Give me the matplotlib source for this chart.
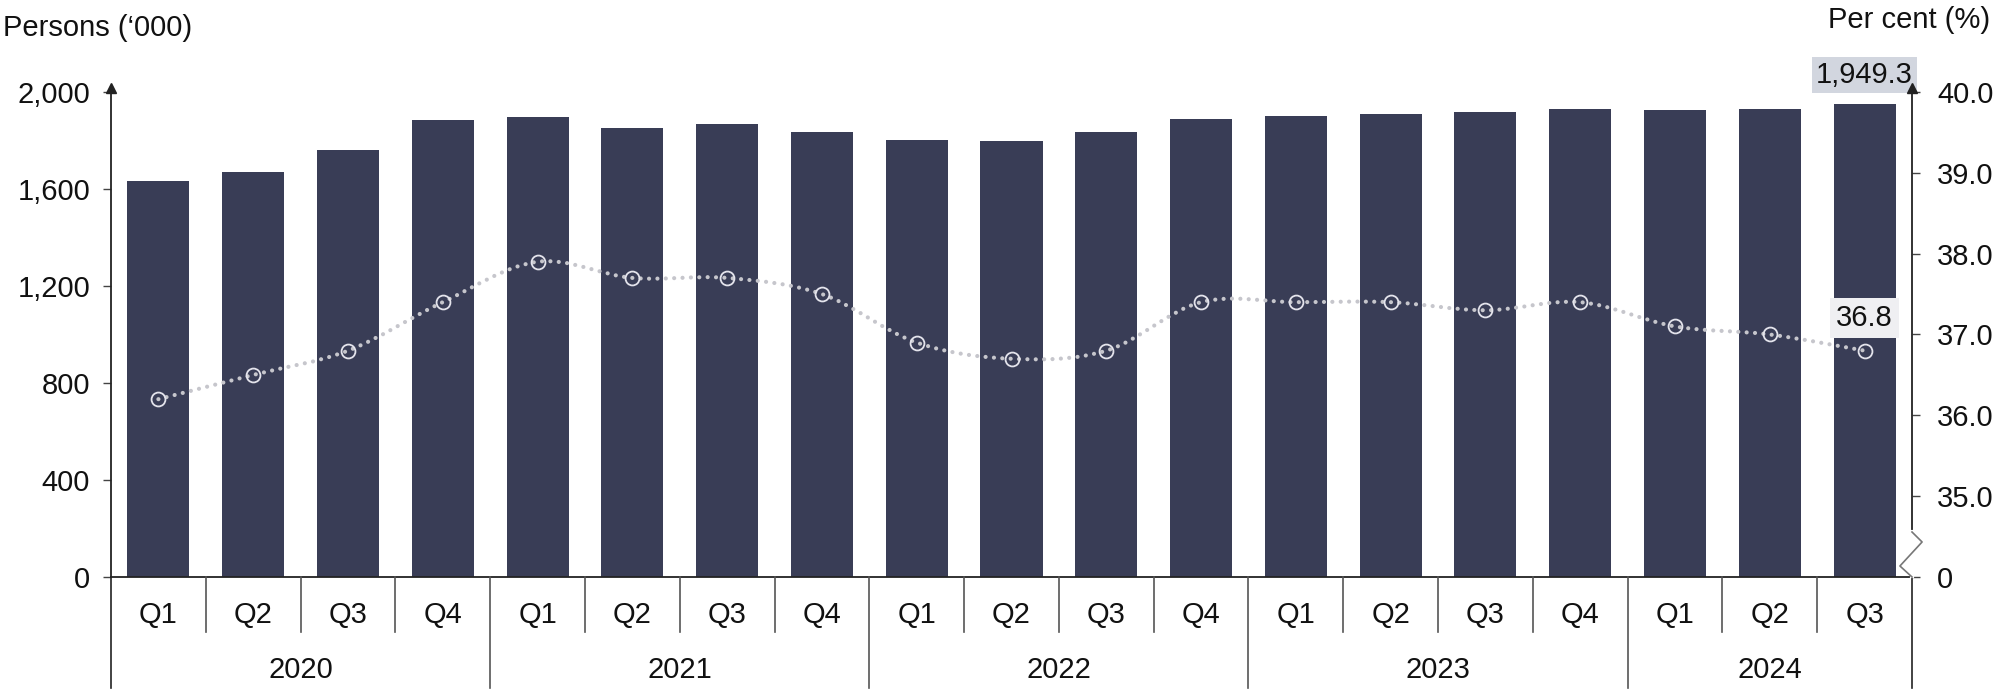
import matplotlib
matplotlib.use("Agg")
import matplotlib.pyplot as plt
from matplotlib.path import Path
from matplotlib.patches import PathPatch
from matplotlib.transforms import blended_transform_factory

# ---------------- data ----------------
quarters = ["Q1", "Q2", "Q3", "Q4",
            "Q1", "Q2", "Q3", "Q4",
            "Q1", "Q2", "Q3", "Q4",
            "Q1", "Q2", "Q3", "Q4",
            "Q1", "Q2", "Q3"]
years = ["2020", "2021", "2022", "2023", "2024"]
quarters_per_year = [4, 4, 4, 4, 3]
persons = [1634, 1670, 1760, 1886, 1897, 1851, 1869, 1833,
           1804, 1796, 1834, 1887, 1903, 1910, 1917, 1931,
           1926, 1929, 1949.3]
percent = [36.2, 36.5, 36.8, 37.4, 37.9, 37.7, 37.7, 37.5,
           36.9, 36.7, 36.8, 37.4, 37.4, 37.4, 37.3, 37.4,
           37.1, 37.0, 36.8]
left_ticks = [0, 400, 800, 1200, 1600, 2000]
left_tick_labels = ["0", "400", "800", "1,200", "1,600", "2,000"]
right_ticks = [34, 35, 36, 37, 38, 39, 40]
right_tick_labels = ["0", "35.0", "36.0", "37.0", "38.0", "39.0", "40.0"]
left_title = "Persons (\u2018000)"
right_title = "Per cent (%)"
last_bar_label = "1,949.3"
last_pct_label = "36.8"

# ---------------- style ----------------
plt.rcParams["font.family"] = ["Liberation Sans", "DejaVu Sans"]
FS = 21
BAR_C = "#393d56"
AX_C = "#222222"
SEP_C = "#555555"

W, H = 2000, 697
fig = plt.figure(figsize=(W / 100, H / 100), dpi=100)
x0, x1, ybase, ytop = 111, 1912, 577, 92
ax = fig.add_axes([x0 / W, (H - ybase) / H, (x1 - x0) / W, (ybase - ytop) / H])
ax2 = ax.twinx()

n = len(persons)
xs = list(range(n))
ax.bar(xs, persons, width=0.655, color=BAR_C, zorder=2)
ax.set_xlim(-0.5, n - 0.5)
ax.set_ylim(0, 2000)
ax.set_yticks(left_ticks)
ax.set_yticklabels(left_tick_labels)
ax.set_xticks([])

ax2.set_ylim(34.0, 40.0)
ax2.set_yticks(right_ticks)
ax2.set_yticklabels(right_tick_labels)

for a in (ax, ax2):
    a.spines["top"].set_visible(False)
    a.set_facecolor("none")
ax.spines["right"].set_visible(False)
ax2.spines["left"].set_visible(False)
ax2.spines["bottom"].set_visible(False)
for s in ("left", "bottom"):
    ax.spines[s].set_color(AX_C)
    ax.spines[s].set_linewidth(1.3)
ax2.spines["right"].set_color(AX_C)
ax2.spines["right"].set_linewidth(1.3)

ax.tick_params(axis="y", direction="out", length=6, width=1, color="#444444",
               labelsize=FS, pad=9, labelcolor="#111111")
ax2.tick_params(axis="y", direction="out", length=6, width=1, color="#444444",
                labelsize=FS, pad=12, labelcolor="#111111")

# axis arrows
for a, xpos in ((ax, 0.0), (ax2, 1.0)):
    a.plot([xpos], [1.0 + 4 / 485], marker="^", ms=7, color=AX_C,
           transform=a.transAxes, clip_on=False, zorder=10)

# smoothed dotted line (Catmull-Rom as cubic Bezier in data space)
verts = [(xs[0], percent[0])]
codes = [Path.MOVETO]
for i in range(n - 1):
    p0 = i - 1 if i > 0 else i
    p3 = i + 2 if i + 2 < n else i + 1
    c1 = (xs[i] + (xs[i + 1] - xs[p0]) / 6, percent[i] + (percent[i + 1] - percent[p0]) / 6)
    c2 = (xs[i + 1] - (xs[p3] - xs[i]) / 6, percent[i + 1] - (percent[p3] - percent[i]) / 6)
    verts += [c1, c2, (xs[i + 1], percent[i + 1])]
    codes += [Path.CURVE4] * 3
patch = PathPatch(Path(verts, codes), facecolor="none", edgecolor="#c6c6cc",
                  lw=3.0, linestyle=(0, (0.01, 2.0)), capstyle="round", zorder=3)
ax2.add_patch(patch)
ax2.plot(xs, percent, linestyle="none", marker="o", ms=10, mfc="none",
         mec="#e4e4ec", mew=1.3, zorder=4)

# value labels
ax.text(n - 1, 2070, last_bar_label, ha="center", va="center", fontsize=FS,
        color="#111111", zorder=1, clip_on=False,
        bbox=dict(boxstyle="square,pad=0.15", facecolor="#d2d6df", edgecolor="none"))
ax2.text(n - 1, 37.2, last_pct_label, ha="center", va="center", fontsize=FS,
         color="#111111", zorder=5,
         bbox=dict(boxstyle="square,pad=0.2", facecolor="#efeff2", edgecolor="none"))

# category axis: separators & labels
tr = blended_transform_factory(ax.transData, ax.transAxes)
short_y = -(632 - ybase) / 485
long_y = -(688 - ybase) / 485
year_bounds = [-0.5]
acc = -0.5
for q in quarters_per_year:
    acc += q
    year_bounds.append(acc)
for b in [i - 0.5 for i in range(n + 1)]:
    if any(abs(b - yb) < 1e-9 for yb in year_bounds):
        ybot = long_y
    else:
        ybot = short_y
    col = AX_C if b in (-0.5, n - 0.5) else SEP_C
    ax.plot([b, b], [0, ybot], color=col, lw=1.2, transform=tr, clip_on=False, zorder=5)
for i, q in enumerate(quarters):
    ax.text(i, -(615 - ybase) / 485, q, ha="center", va="center", fontsize=FS,
            color="#111111", transform=tr)
start = 0
for yr, q in zip(years, quarters_per_year):
    ax.text(start + (q - 1) / 2, -(670 - ybase) / 485, yr, ha="center", va="center",
            fontsize=FS, color="#111111", transform=tr)
    start += q

# axis break on right axis
bx = ax2.transAxes
ax2.plot([1.0, 1.0], [0.002, 0.0928], color="white", lw=3, transform=bx,
         clip_on=False, zorder=11)
ax2.plot([1.0, 1.0056, 0.9933, 1.0], [0.0928, 0.0722, 0.0227, 0.0], color="#777777",
         lw=1.2, transform=bx, clip_on=False, zorder=12)

# titles
fig.text(3 / W, 1 - 28 / H, left_title, ha="left", va="center", fontsize=FS, color="#111111")
fig.text(1990 / W, 1 - 20 / H, right_title, ha="right", va="center", fontsize=FS, color="#111111")

fig.savefig("out.png", dpi=100)
